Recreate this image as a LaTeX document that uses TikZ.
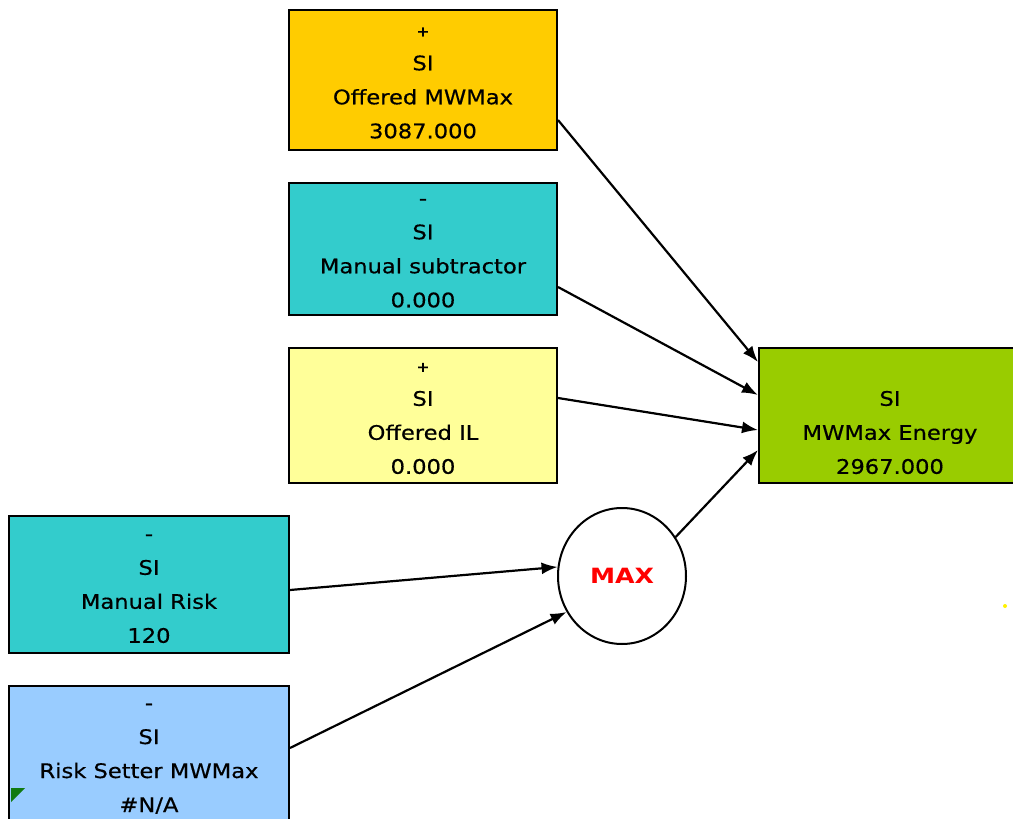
\documentclass[tikz,border=0pt]{standalone}
\usepackage{fontspec}
\setmainfont{DejaVu Sans}
\newfontfamily\boxfont[FakeStretch=1.13,FakeBold=0.5]{DejaVu Sans}
\newfontfamily\maxfont[FakeStretch=1.2]{DejaVu Sans}
\usetikzlibrary{shapes.geometric,arrows.meta}
\definecolor{cgold}{HTML}{FFCC00}
\definecolor{cteal}{HTML}{33CCCC}
\definecolor{cpale}{HTML}{FFFF99}
\definecolor{clime}{HTML}{99CC00}
\definecolor{csky}{HTML}{99CCFF}
\definecolor{cgreen}{HTML}{117A11}
\definecolor{cred}{HTML}{FF0000}
\newcommand{\plussign}{\vphantom{SI}{\fontsize{14}{34}\selectfont\bfseries +}}
\newcommand{\minussign}{\vphantom{SI}-}
\begin{document}
\begin{tikzpicture}[x=1pt,y=-1pt,
  box/.style={draw=black, line width=2pt, rectangle, align=center, inner sep=0pt,
    font=\boxfont\fontsize{20}{34}\selectfont, text=black},
  conn/.style={draw=black, line width=2.2pt, -{Latex[length=16pt,width=12pt]}},
  maxnode/.style={draw=black, line width=2pt, ellipse, fill=white, inner sep=0pt,
    minimum width=128pt, minimum height=136pt, text=cred,
    font=\maxfont\bfseries\fontsize{21}{24}\selectfont}]
\useasboundingbox (0,0) rectangle (1013,819);
\fill[white] (0,0) rectangle (1013,819);
\clip (0,0) rectangle (1013,819);

\node[box, fill=cgold, minimum width=268pt, minimum height=140pt] (A) at (423,80)
  {\plussign\\SI\\Offered MWMax\\3087.000};
\node[box, fill=cteal, minimum width=268pt, minimum height=132pt] (B) at (423,249)
  {\minussign\\SI\\Manual subtractor\\0.000};
\node[box, fill=cpale, minimum width=268pt, minimum height=135pt] (C) at (423,415.5)
  {\plussign\\SI\\Offered IL\\0.000};
\node[box, fill=clime, minimum width=262pt, minimum height=135pt] (D) at (890,415.5)
  {\vphantom{SI}\\SI\\MWMax Energy\\2967.000};
\node[box, fill=cteal, minimum width=280pt, minimum height=137pt] (E) at (149,584.5)
  {\minussign\\SI\\Manual Risk\\120};
\node[box, fill=csky, minimum width=280pt, minimum height=137pt] (F) at (149,754.5)
  {\minussign\\SI\\Risk Setter MWMax\\\#N/A};
\node[maxnode] (M) at (622,576) {MAX};

\fill[cgreen] (11,788) -- (25,788) -- (11,802) -- cycle;
\fill[yellow] (1005,606) circle (2);

\draw[conn] ([yshift=-40pt]A.east) -- ([yshift=53.5pt]D.west);
\draw[conn] ([yshift=-38pt]B.east) -- ([yshift=20.5pt]D.west);
\draw[conn] ([yshift=17.5pt]C.east) -- ([yshift=-14.5pt]D.west);
\draw[conn] (M.36) -- ([yshift=-34.5pt]D.west);
\draw[conn] ([yshift=-5.5pt]E.east) -- (M.172);
\draw[conn] ([yshift=6.5pt]F.east) -- (M.213);
\end{tikzpicture}
\end{document}
